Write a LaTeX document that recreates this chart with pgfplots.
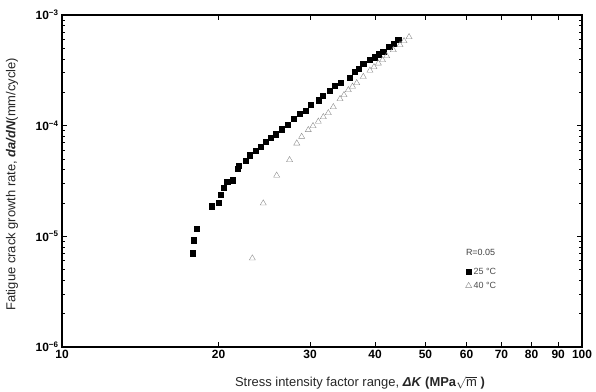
\documentclass[border=0pt]{standalone}
\usepackage{pgfplots}
\pgfplotsset{compat=1.18}
\usepackage{fontspec}
\setmainfont{Liberation Sans}
\begin{document}
\begin{tikzpicture}
\begin{axis}[
  xmode=log, ymode=log,
  scale only axis, width=520bp, height=332bp,
  xmin=10, xmax=100, ymin=1e-6, ymax=1e-3,
  xtick={10,20,30,40,50,60,70,80,90,100},
  xticklabels={\textbf{10},\textbf{20},\textbf{30},\textbf{40},\textbf{50},\textbf{60},\textbf{70},\textbf{80},\textbf{90},\textbf{100}},
  minor xtick={},
  ytick={1e-6,1e-5,1e-4,1e-3},
  yticklabels={\textbf{10\textsuperscript{−6}},\textbf{10\textsuperscript{−5}},\textbf{10\textsuperscript{−4}},\textbf{10\textsuperscript{−3}}},
  minor ytick={2e-6,3e-6,4e-6,5e-6,6e-6,7e-6,8e-6,9e-6,2e-5,3e-5,4e-5,5e-5,6e-5,7e-5,8e-5,9e-5,2e-4,3e-4,4e-4,5e-4,6e-4,7e-4,8e-4,9e-4},
  tick label style={font=\fontsize{12}{14}\selectfont},
  axis line style={line width=1.1pt},
  major tick length=5bp, minor tick length=3bp,
  every tick/.style={black, line width=0.8pt},
  xlabel={Stress intensity factor range, \textbf{\textit{ΔK}} \textbf{(MPa$\sqrt{\mathrm{m}}$ )}},
  ylabel={Fatigue crack growth rate, \textbf{\textit{da/dN}}(mm/cycle)},
  label style={font=\fontsize{13}{15}\selectfont, text=black!85},
  xlabel style={at={(axis description cs:0.573,-0.108)}, anchor=center},
  ylabel style={at={(axis description cs:-0.096,0.49)}, anchor=center},
  legend style={at={(rel axis cs:0.77,0.25)}, anchor=north west, draw=none, fill=none,
    font=\fontsize{9}{11}\selectfont, row sep=2pt, text=black!70},
  legend cell align=left,
]
\addplot[only marks, mark=square*, mark size=2.6bp, black] coordinates {
(17.81,7.04e-6) (17.92,9.22e-6) (18.16,1.174e-5) (19.43,1.87e-5) (20.02,2.015e-5)
(20.16,2.38e-5) (20.49,2.75e-5) (20.79,3.12e-5) (21.29,3.21e-5) (21.80,4.06e-5)
(21.89,4.35e-5) (22.55,4.80e-5) (22.99,5.40e-5) (23.61,5.94e-5) (24.11,6.46e-5)
(24.64,7.17e-5) (25.19,7.79e-5) (25.76,8.36e-5) (26.49,9.28e-5) (27.12,1.029e-4)
(27.94,1.149e-4) (28.60,1.275e-4) (29.38,1.377e-4) (30.09,1.548e-4) (31.14,1.697e-4)
(31.72,1.855e-4) (32.76,2.07e-4) (33.50,2.28e-4) (34.40,2.445e-4) (35.69,2.71e-4)
(36.60,3.075e-4) (37.26,3.25e-4) (37.97,3.66e-4) (39.11,3.92e-4) (39.99,4.15e-4)
(40.58,4.42e-4) (41.48,4.66e-4) (42.60,5.17e-4) (43.50,5.55e-4) (44.33,6.03e-4)
};
\addlegendentry{25 °C}
\addplot[only marks, mark=triangle, mark size=3.5bp, black!45, mark options={line width=0.4pt}] coordinates {
(23.23,6.34e-6) (24.38,1.99e-5) (25.87,3.55e-5) (27.39,4.90e-5) (28.28,6.93e-5)
(28.90,7.96e-5) (29.76,9.15e-5) (30.39,9.94e-5) (31.11,1.09e-4) (31.81,1.199e-4)
(32.52,1.302e-4) (33.25,1.475e-4) (34.25,1.743e-4) (34.86,1.894e-4) (35.53,2.10e-4)
(36.20,2.26e-4) (36.88,2.43e-4) (37.97,2.77e-4) (39.11,3.15e-4) (39.81,3.39e-4)
(40.58,3.66e-4) (41.34,3.92e-4) (42.11,4.26e-4) (43.36,4.83e-4) (44.67,5.36e-4)
(45.47,5.82e-4) (46.49,6.33e-4)
};
\addlegendentry{40 °C}
\node[font=\fontsize{9}{11}\selectfont, text=black!75, anchor=center] at (rel axis cs:0.805,0.285) {R=0.05};
\end{axis}
\pgfresetboundingbox
\path[use as bounding box] ([shift={(-62bp,-45bp)}]current axis.south west) rectangle ([shift={(14bp,15bp)}]current axis.north east);
\end{tikzpicture}
\end{document}
